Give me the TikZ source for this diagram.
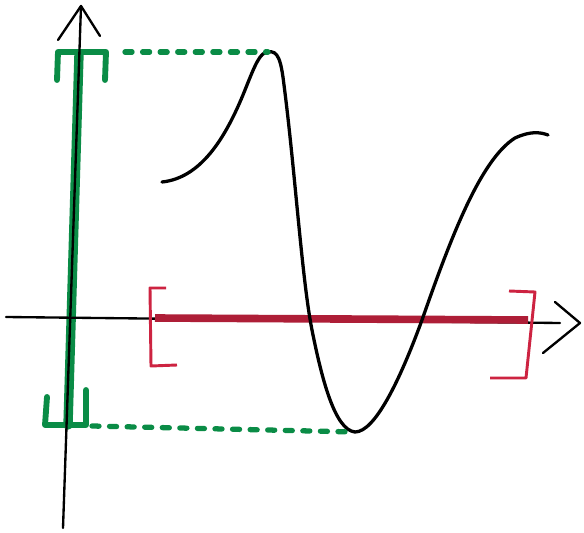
\documentclass[tikz,border=0pt]{standalone}
\usepackage{xcolor}
\usepackage{tikz}
\usetikzlibrary{positioning}

\definecolor{penGreen}{RGB}{10,140,70}
\definecolor{penRed}{RGB}{205,35,65}

\begin{document}
\begin{tikzpicture}[
    x=0.03cm, y=-0.03cm,
    axis/.style={line width=2pt, black, line cap=round, line join=round},
    curve/.style={line width=2.8pt, black, line cap=round, line join=round},
    greenbar/.style={line width=8pt, penGreen, line cap=round},
    greenbracket/.style={line width=5pt, penGreen, line cap=round, line join=round},
    greendash/.style={line width=4.5pt, penGreen, line cap=round, dash pattern=on 6pt off 9pt},
    redbar/.style={line width=6.5pt, penRed!85!black},
    redbracket/.style={line width=2.5pt, penRed, line join=round}
]

\useasboundingbox[fill=white] (0,0) rectangle (584,533);

% ---- Range on the y axis ----

\draw[greenbar] (79,54) -- (68,425);

% top bracket
\draw[greenbracket] (57,80) -- (58,52) -- (106,52) -- (105,80);
% bottom bracket
\draw[greenbracket] (47,397) -- (45,425) -- (86,425) -- (86,390);

% ---- Axes ----

% y axis
\draw[axis] (63,528) -- (81,6);
\draw[axis] (58,40) -- (81,6) -- (100,36);

% x axis
\draw[axis] (6,317) -- (560,323);
\draw[axis] (555,302) -- (580,323) -- (543,353);

% ---- Domain on the x axis ----

\draw[redbar] (155,318) -- (528,320);

% left bracket
\draw[redbracket] (166,288) -- (150,288) -- (151,366) -- (177,365);
% right bracket
\draw[redbracket] (509,291) -- (535,292) -- (526,378) -- (490,378);

% ---- Curve ----

\coordinate (peak) at (268,52);
\coordinate (dip) at (355,432);

\draw[curve] (162,182)
    .. controls (200,178) and (225,140) .. (245,90)
    .. controls (255,65) and (260,52) .. (peak)
    .. controls (278,50) and (281,60) .. (284,85)
    .. controls (295,170) and (302,280) .. (312,330)
    .. controls (322,380) and (335,430) .. (dip)
    .. controls (375,432) and (400,380) .. (422,320)
    .. controls (450,240) and (480,160) .. (515,138)
    .. controls (530,131) and (540,132) .. (548,135);

% ---- Dashed guides ----

\coordinate (ytop) at (125,52);
\coordinate (ybot) at (92,426);

\draw[greendash] (ytop) -- (peak);
\draw[greendash] (ybot) -- (dip);

\end{tikzpicture}
\end{document}
